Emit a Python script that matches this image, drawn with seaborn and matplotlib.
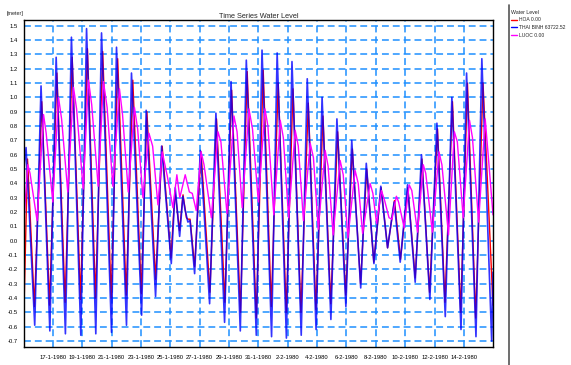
import numpy as np
import pandas as pd
import matplotlib
matplotlib.use("Agg")
import matplotlib.pyplot as plt
import matplotlib.dates as mdates
from matplotlib.ticker import MultipleLocator, FuncFormatter, FixedLocator
from matplotlib.lines import Line2D
import seaborn as sns

sns.set_style("white")
plt.rcParams['font.family'] = ['Liberation Sans', 'DejaVu Sans']

# ---- data (time in days since 15-1-1980 00:00, water level in meters) ----
thaibinh_t = [0.04, 0.18, 0.77, 1.20, 1.80, 2.23, 2.86, 3.27, 3.91, 4.30, 4.93, 5.32, 6.00, 6.34,
              7.02, 7.36, 8.05, 8.36, 9.00, 9.41, 10.07, 10.34, 10.64, 10.86, 11.00, 11.20, 11.35,
              11.66, 12.05, 12.68, 13.11, 13.70, 14.14, 14.77, 15.18, 15.86, 16.25, 16.90, 17.28,
              17.91, 18.29, 18.92, 19.33, 19.93, 20.34, 20.94, 21.35, 21.96, 22.36, 22.97, 23.35,
              23.87, 24.34, 24.80, 25.25, 25.66, 26.16, 26.68, 27.11, 27.68, 28.16, 28.73, 29.18,
              29.80, 30.18, 30.82, 31.22, 31.89, 31.98]
thaibinh_v = [0.50, 0.65, -0.59, 1.08, -0.63, 1.28, -0.65, 1.42, -0.66, 1.48, -0.65, 1.45, -0.64, 1.35,
              -0.59, 1.17, -0.52, 0.91, -0.39, 0.66, -0.16, 0.37, 0.03, 0.31, 0.22, 0.13, 0.14,
              -0.23, 0.63, -0.44, 0.89, -0.57, 1.11, -0.63, 1.26, -0.66, 1.33, -0.67, 1.31,
              -0.68, 1.25, -0.66, 1.13, -0.62, 1.00, -0.55, 0.85, -0.46, 0.70, -0.33, 0.54,
              -0.16, 0.38, -0.05, 0.27, -0.15, 0.39, -0.29, 0.60, -0.41, 0.82, -0.53, 1.00,
              -0.62, 1.17, -0.67, 1.27, -0.70, -0.22]

hoa_t = [0.04, 0.28, 0.75, 1.25, 1.78, 2.28, 2.84, 3.32, 3.89, 4.36, 4.91, 5.40, 5.98, 6.42,
         7.00, 7.45, 8.03, 8.41, 9.00, 9.45, 10.05, 10.32, 10.63, 10.87, 11.10, 11.20, 11.35,
         11.66, 12.10, 12.70, 13.15, 13.72, 14.18, 14.78, 15.24, 15.86, 16.33, 16.88, 17.35,
         17.90, 18.36, 18.90, 19.40, 19.92, 20.40, 20.93, 21.40, 21.95, 22.40, 22.96, 23.38,
         23.86, 24.36, 24.80, 25.27, 25.68, 26.18, 26.68, 27.14, 27.66, 28.20, 28.71, 29.22,
         29.78, 30.24, 30.80, 31.30, 31.98]
hoa_v = [-0.47, 0.57, -0.46, 0.97, -0.45, 1.17, -0.43, 1.28, -0.41, 1.34, -0.40, 1.32, -0.40, 1.27,
         -0.38, 1.12, -0.37, 0.90, -0.27, 0.66, -0.12, 0.35, 0.07, 0.32, 0.16, 0.15, 0.15,
         -0.18, 0.62, -0.36, 0.85, -0.43, 1.05, -0.50, 1.18, -0.54, 1.19, -0.46, 1.10,
         -0.50, 1.06, -0.50, 0.96, -0.48, 0.87, -0.44, 0.76, -0.38, 0.64, -0.30, 0.50,
         -0.15, 0.37, -0.05, 0.28, -0.13, 0.37, -0.26, 0.57, -0.36, 0.78, -0.43, 0.97,
         -0.50, 1.10, -0.54, 1.10, -0.45]

luoc_t = [0.04, 0.30, 0.45, 0.93, 1.37, 1.55, 2.00, 2.39, 2.60, 3.02, 3.41, 3.62, 4.07, 4.43, 4.65,
          5.09, 5.45, 5.70, 6.09, 6.54, 6.75, 7.14, 7.56, 7.78, 8.14, 8.55, 8.80, 9.16, 9.45,
          9.80, 10.18, 10.45, 10.65, 11.02, 11.30, 11.50, 11.77, 12.10, 12.30, 12.80, 13.25,
          13.45, 13.86, 14.34, 14.55, 14.90, 15.36, 15.60, 16.00, 16.45, 16.65, 17.05, 17.49,
          17.70, 18.06, 18.51, 18.72, 19.07, 19.53, 19.75, 20.08, 20.55, 20.75, 21.09, 21.57,
          21.78, 22.10, 22.59, 22.80, 23.10, 23.61, 23.80, 24.05, 24.38, 24.60, 24.90, 25.10,
          25.40, 25.55, 25.93, 26.27, 26.45, 26.84, 27.23, 27.40, 27.85, 28.30, 28.50, 28.95,
          29.35, 29.55, 29.95, 30.38, 30.58, 31.00, 31.45, 31.65, 31.98]
luoc_v = [0.15, 0.53, 0.47, 0.14, 0.88, 0.75, 0.27, 1.00, 0.85, 0.34, 1.07, 0.92, 0.36, 1.12, 0.95,
          0.38, 1.11, 0.93, 0.38, 1.06, 0.88, 0.34, 0.93, 0.78, 0.30, 0.75, 0.66, 0.25, 0.62,
          0.45, 0.23, 0.46, 0.30, 0.46, 0.34, 0.33, 0.21, 0.62, 0.53, 0.16, 0.76,
          0.69, 0.19, 0.87, 0.76, 0.23, 0.92, 0.78, 0.27, 0.92, 0.80, 0.18, 0.84,
          0.72, 0.16, 0.77, 0.66, 0.14, 0.68, 0.58, 0.08, 0.63, 0.52, 0.04, 0.56,
          0.46, 0.02, 0.49, 0.40, 0.05, 0.40, 0.33, 0.12, 0.35, 0.28, 0.16, 0.15,
          0.31, 0.27, 0.09, 0.39, 0.35, 0.06, 0.53, 0.47, 0.06, 0.62, 0.53, 0.04,
          0.76, 0.69, 0.16, 0.84, 0.72, 0.13, 0.85, 0.60, 0.18]

series_names = ["HOA", "THAI BINH", "LUOC"]
legend_values = ["0.00", "63722.52", "0.00"]
tick_days = [2, 4, 6, 8, 10, 12, 14, 16, 18, 20, 22, 24, 26, 28, 30]

base = pd.Timestamp("1980-01-15")

def frame(t, v):
    return pd.DataFrame({"time": base + pd.to_timedelta(np.array(t), unit="D"), "level": v})

df_hoa = frame(hoa_t, hoa_v)
df_tb = frame(thaibinh_t, thaibinh_v)
df_luoc = frame(luoc_t, luoc_v)

fig = plt.figure(figsize=(5.71, 3.65), dpi=100)
ax = fig.add_axes([24 / 571, 1 - 347 / 365, (493 - 24) / 571, (347 - 20) / 365])

colors = ["#FF0000", "#0000FF", "#FF00FF"]
sns.lineplot(data=df_hoa, x="time", y="level", ax=ax, color=colors[0], linewidth=1.0,
             label=f"{series_names[0]}  {legend_values[0]}", sort=False)
sns.lineplot(data=df_tb, x="time", y="level", ax=ax, color=colors[1], linewidth=1.2, alpha=0.8,
             label=f"{series_names[1]}  {legend_values[1]}", sort=False)
sns.lineplot(data=df_luoc, x="time", y="level", ax=ax, color=colors[2], linewidth=1.0,
             label=f"{series_names[2]}  {legend_values[2]}", sort=False)

x0 = base + pd.Timedelta(days=0.04)
x1 = base + pd.Timedelta(days=31.98)
ax.set_xlim(x0, x1)
ax.set_ylim(-0.742, 1.54)

tick_dates = [base + pd.Timedelta(days=d) for d in tick_days]
ax.xaxis.set_major_locator(FixedLocator(mdates.date2num(tick_dates)))
ax.xaxis.set_major_formatter(FuncFormatter(
    lambda v, p: (lambda d: f"{d.day}-{d.month}-{d.year}")(mdates.num2date(v))))
ax.xaxis.set_minor_locator(mdates.HourLocator(byhour=[0, 8, 16]))
ax.yaxis.set_major_locator(MultipleLocator(0.1))
ax.yaxis.set_minor_locator(MultipleLocator(0.05))
ax.yaxis.set_major_formatter(FuncFormatter(lambda v, p: f"{(round(v, 1) + 0.0):.1f}"))

ax.tick_params(axis="both", which="major", direction="out", length=3, width=0.8,
               labelsize=4.2, pad=1.5, colors="black")
ax.tick_params(axis="both", which="minor", direction="out", length=1.8, width=0.6)
ax.tick_params(axis="x", which="major", pad=3)
for s in ax.spines.values():
    s.set_color("black")
    s.set_linewidth(1.0)

ax.grid(True, which="major", axis="both", color="#1E90FF", linewidth=1.1,
        linestyle=(0, (4.5, 2.6)))
ax.set_xlabel("")
ax.set_ylabel("")
ax.set_title("Time Series Water Level", fontsize=5.3, pad=1.5)

fig.text(7 / 571, 1 - 14 / 365, "[meter]", fontsize=4, va="center", ha="left")

labels = [f"{n} {v}" for n, v in zip(series_names, legend_values)]
ax.get_legend().remove()
handles = [Line2D([], [], color=c, lw=1.0) for c in colors]
leg = fig.legend(handles, labels, loc="upper left", bbox_to_anchor=(510.5 / 571, 1 - 9 / 365),
                 title="Water Level", fontsize=3.6, title_fontsize=3.8, frameon=False,
                 handlelength=1.2, handletextpad=0.45, labelspacing=0.55, borderaxespad=0,
                 borderpad=0.1, alignment="left")

fig.add_artist(Line2D([508.5 / 571, 508.5 / 571], [0, 1 - 5 / 365], transform=fig.transFigure,
                      color="#555555", linewidth=1.2))

fig.savefig("out.png", dpi=100)
